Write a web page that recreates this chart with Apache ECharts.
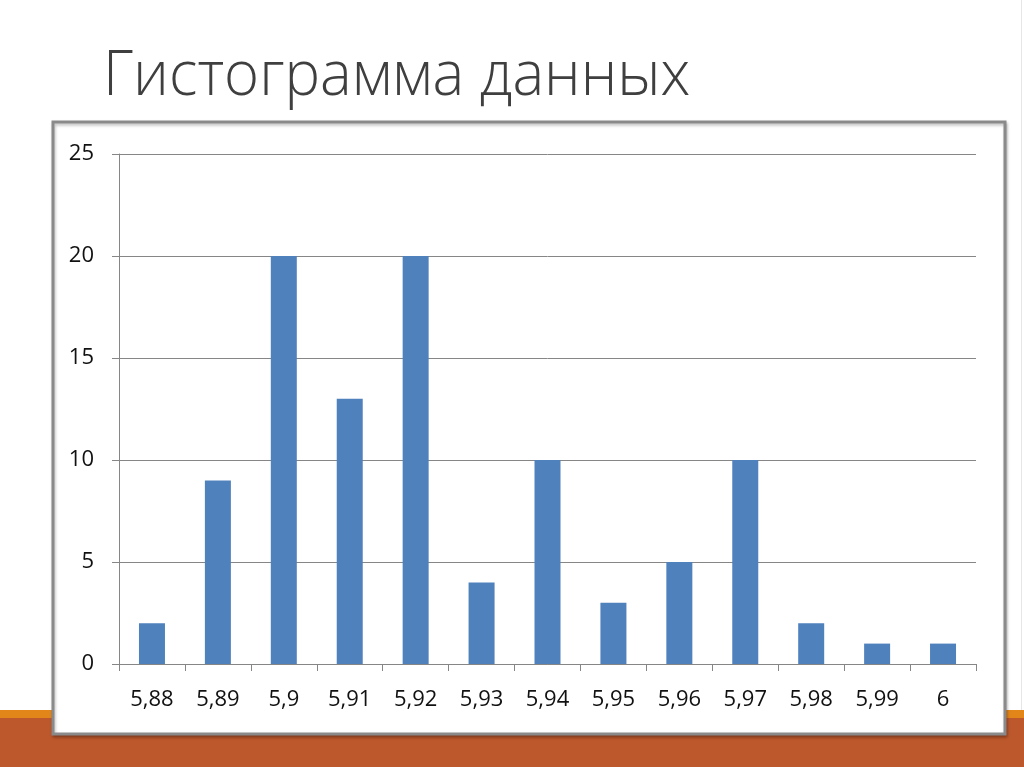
<!DOCTYPE html>
<html>
<head>
<meta charset="utf-8">
<script src="https://cdn.jsdelivr.net/npm/echarts@6/dist/echarts.min.js"></script>
<style>
html,body{margin:0;padding:0;background:#fff;}
#c{width:1024px;height:767px;}
</style>
</head>
<body>
<div id="c"></div>
<script>
const titleText = "Гистограмма данных";
const categories = ["5,88","5,89","5,9","5,91","5,92","5,93","5,94","5,95","5,96","5,97","5,98","5,99","6"];
const counts = [2, 9, 20, 13, 20, 4, 10, 3, 5, 10, 2, 1, 1];
const yTicks = {min: 0, max: 25, interval: 5};

const chart = echarts.init(document.getElementById('c'), null, {renderer: 'canvas'});
const gray = '#868686';
const labelFont = '"Open Sans", sans-serif';
chart.setOption({
  backgroundColor: '#ffffff',
  animation: false,
  graphic: [
    {type: 'rect', z: -10, shape: {x: 0, y: 710, width: 1024, height: 8}, style: {fill: '#E3861A'}, silent: true},
    {type: 'rect', z: -10, shape: {x: 0, y: 718, width: 1024, height: 49}, style: {fill: '#BC582C'}, silent: true},
    {type: 'rect', z: -10, shape: {x: 1021, y: 0, width: 1, height: 710}, style: {fill: '#e6e6e6'}, silent: true},
    {type: 'rect', z: -5, shape: {x: 53, y: 122, width: 952, height: 612},
      style: {fill: '#ffffff', stroke: '#8a8a8a', lineWidth: 3, shadowBlur: 3, shadowColor: 'rgba(0,0,0,0.25)', shadowOffsetX: 1, shadowOffsetY: 2}, silent: true},
    {type: 'text', x: 103, y: 46, scaleX: 0.935, scaleY: 0.97, originX: 0, originY: 0, z: 10,
      style: {text: titleText, fill: '#3f3f3f', font: '300 64px "Open Sans", sans-serif', textVerticalAlign: 'top'}}
  ],
  grid: {left: 119, right: 48, top: 154, bottom: 103, containLabel: false},
  xAxis: {
    type: 'category',
    data: categories,
    axisLine: {lineStyle: {color: gray, width: 1}},
    axisTick: {show: true, alignWithLabel: false, length: 7, lineStyle: {color: gray}},
    axisLabel: {color: '#111', fontSize: 22, fontFamily: labelFont, margin: 25, interval: 0}
  },
  yAxis: {
    type: 'value',
    min: yTicks.min, max: yTicks.max, interval: yTicks.interval,
    axisLine: {show: true, lineStyle: {color: gray, width: 1}},
    axisTick: {show: true, length: 7, lineStyle: {color: gray}},
    axisLabel: {color: '#111', fontSize: 22, fontFamily: labelFont, margin: 25},
    splitLine: {show: true, lineStyle: {color: gray, width: 1}}
  },
  series: [{
    type: 'bar',
    data: counts,
    barWidth: 26,
    itemStyle: {color: '#4F81BD'}
  }]
});
</script>
</body>
</html>
